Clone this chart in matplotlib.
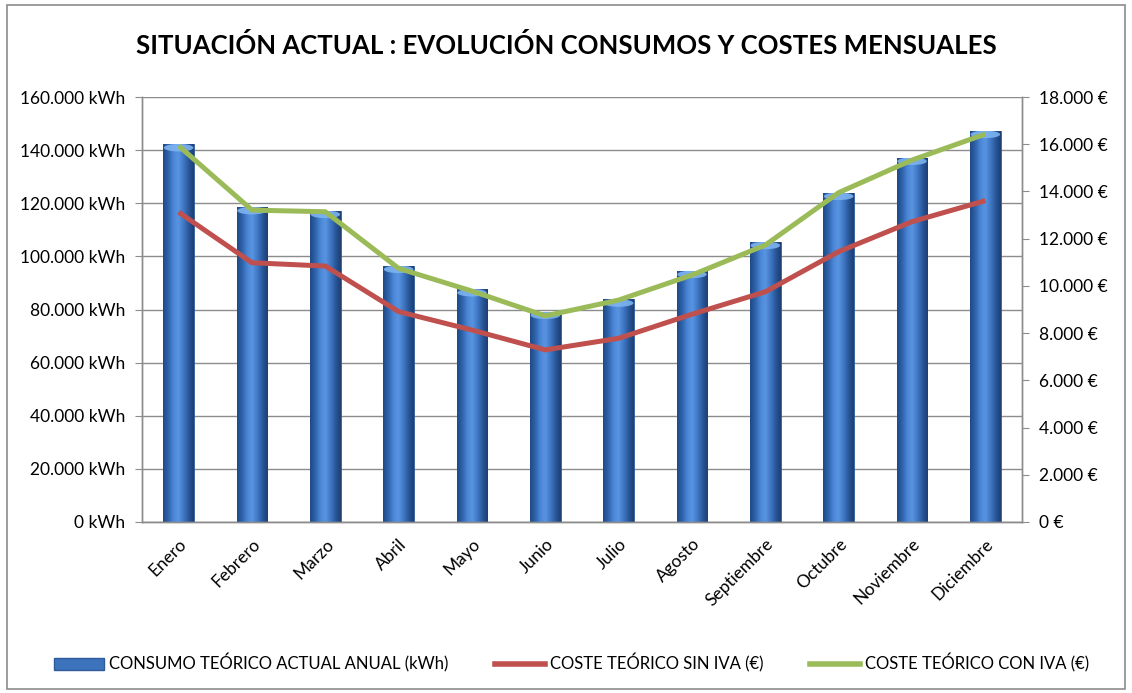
import matplotlib
matplotlib.use("Agg")
import matplotlib.pyplot as plt
import numpy as np
from matplotlib.patches import Rectangle, Ellipse
from matplotlib.lines import Line2D
from matplotlib.colors import LinearSegmentedColormap

months = ["Enero", "Febrero", "Marzo", "Abril", "Mayo", "Junio", "Julio",
          "Agosto", "Septiembre", "Octubre", "Noviembre", "Diciembre"]
consumo_kwh = [142300, 118600, 117200, 96500, 87700, 79200, 83800,
               94600, 105500, 124000, 137200, 147300]
coste_sin_iva = [13120, 10980, 10840, 8910, 8130, 7290, 7780,
                 8800, 9750, 11450, 12720, 13610]
coste_con_iva = [15930, 13210, 13140, 10740, 9780, 8730, 9400,
                 10460, 11730, 13950, 15330, 16430]
left_ticks = [0, 20000, 40000, 60000, 80000, 100000, 120000, 140000, 160000]
right_ticks = [0, 2000, 4000, 6000, 8000, 10000, 12000, 14000, 16000, 18000]

title = "SITUACIÓN ACTUAL : EVOLUCIÓN CONSUMOS Y COSTES MENSUALES"
legend_labels = ["CONSUMO TEÓRICO ACTUAL ANUAL (kWh)",
                 "COSTE TEÓRICO SIN IVA (€)",
                 "COSTE TEÓRICO CON IVA (€)"]

FONT = "Lato"
plt.rcParams["font.family"] = [FONT, "DejaVu Sans"]

def fmt_thousands(v):
    return f"{int(v):,}".replace(",", ".")

W, H = 1132, 693
fig = plt.figure(figsize=(W / 100, H / 100), dpi=100)
fig.patch.set_facecolor("white")
fig.add_artist(Rectangle((7 / W, 4 / H), (1125 - 7) / W, (688 - 4) / H,
                         transform=fig.transFigure, fill=False,
                         edgecolor="#8c8c8c", linewidth=1.2))

ax = fig.add_axes([142 / W, 1 - 522 / H, (1022 - 142) / W, (522 - 97) / H])
ax2 = ax.twinx()

x = np.arange(len(months))
bar_w = 0.42
bars = ax.bar(x, consumo_kwh, width=bar_w, color="#3d72bd", zorder=2,
              edgecolor="#2f5b99", linewidth=0.6)

cyl = LinearSegmentedColormap.from_list(
    "cyl", ["#1f4a86", "#2f63ab", "#4a86d6", "#5a95e0", "#3f78c6", "#2a589a", "#1c3f73"])
grad = np.linspace(0, 1, 64).reshape(1, -1)
for b in bars:
    x0, w, h = b.get_x(), b.get_width(), b.get_height()
    im = ax.imshow(grad, extent=[x0, x0 + w, 0, h], aspect="auto", cmap=cyl,
                   zorder=2.1, interpolation="bicubic")
    im.set_clip_path(b)
    cap = Ellipse((x0 + w / 2, h - 1400), w * 0.96, 2800, facecolor="#7db3f0",
                  edgecolor="none", zorder=2.3, alpha=0.9)
    ax.add_patch(cap)
    cap.set_clip_path(b)

FS = 12.5
ax.set_xlim(-0.5, len(months) - 0.5)
ax.set_ylim(0, 160000)
ax.set_yticks(left_ticks)
ax.set_yticklabels([f"{fmt_thousands(v)} kWh" for v in left_ticks], fontsize=FS)
ax.grid(axis="y", color="#8c8c8c", linewidth=1.0, zorder=0)
ax.set_axisbelow(True)
ax.set_xticks(x)
ax.set_xticklabels(months, rotation=45, ha="right", rotation_mode="anchor",
                   fontsize=FS)
ax.tick_params(axis="x", length=0, pad=10)
ax.tick_params(axis="y", length=5, color="#8c8c8c", pad=7)

ax2.plot(x, coste_sin_iva, color="#c0504d", linewidth=3.6, zorder=3,
         solid_capstyle="butt", solid_joinstyle="round")
ax2.plot(x, coste_con_iva, color="#9bbb59", linewidth=3.6, zorder=3,
         solid_capstyle="butt", solid_joinstyle="round")
ax2.set_ylim(0, 18000)
ax2.set_yticks(right_ticks)
ax2.set_yticklabels([f"{fmt_thousands(v)} €" for v in right_ticks], fontsize=FS)
ax2.tick_params(axis="y", length=5, color="#8c8c8c", pad=7)

for a in (ax, ax2):
    a.spines["top"].set_visible(False)
    for s in ("left", "right", "bottom"):
        a.spines[s].set_color("#8c8c8c")
        a.spines[s].set_linewidth(1.0)

fig.text(0.5, 1 - 45 / H, title, ha="center", va="center",
         fontsize=18.5, fontweight="bold")

handles = [Rectangle((0, 0), 1, 1, facecolor="#3d72bd", edgecolor="#2f5b99"),
           Line2D([], [], color="#c0504d", linewidth=4),
           Line2D([], [], color="#9bbb59", linewidth=4)]
fig.legend(handles, legend_labels, loc="center", bbox_to_anchor=(0.505, 1 - 663 / H),
           ncol=3, frameon=False, fontsize=12, handlelength=3.0,
           handletextpad=0.3, columnspacing=2.8)

fig.savefig("out.png", dpi=100, facecolor="white")
